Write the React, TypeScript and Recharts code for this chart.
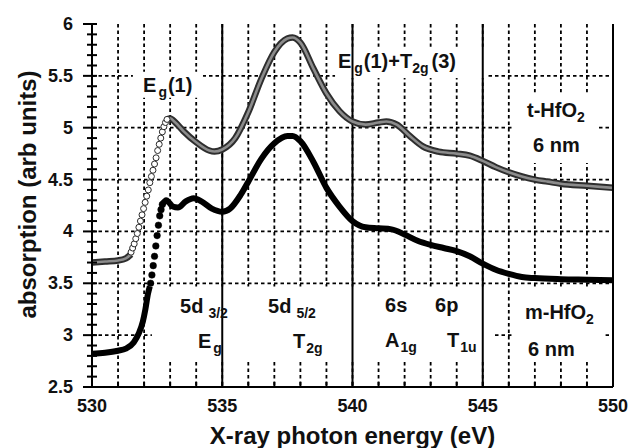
import React from "react";
import {
  LineChart,
  Line,
  XAxis,
  YAxis,
  CartesianGrid,
  ReferenceLine,
  ReferenceArea,
  ReferenceDot,
  Label,
} from "recharts";

const FONT = "'Liberation Sans', Arial, Helvetica, sans-serif";

// axis ticks
const xTicks = [530, 531, 532, 533, 534, 535, 536, 537, 538, 539, 540, 541, 542, 543, 544, 545, 546, 547, 548, 549, 550];
const xMajor = [535, 540, 545];
const yTicks = [
  2.5, 2.6, 2.7, 2.8, 2.9, 3, 3.1, 3.2, 3.3, 3.4, 3.5, 3.6, 3.7, 3.8, 3.9, 4, 4.1, 4.2, 4.3, 4.4,
  4.5, 4.6, 4.7, 4.8, 4.9, 5, 5.1, 5.2, 5.3, 5.4, 5.5, 5.6, 5.7, 5.8, 5.9, 6,
];
const yGrid = [3, 3.5, 4, 4.5, 5, 5.5];

// t-HfO2, 6 nm (open circles)
const tBefore = [[530, 3.7], [530.5, 3.71], [531, 3.72], [531.3, 3.74], [531.5, 3.78]];
const tRise = [
  [531.5, 3.8], [531.56, 3.84], [531.62, 3.88], [531.68, 3.93], [531.74, 3.98], [531.8, 4.04],
  [531.86, 4.1], [531.92, 4.16], [531.98, 4.22], [532.04, 4.28], [532.1, 4.34], [532.16, 4.4],
  [532.22, 4.47], [532.28, 4.53], [532.34, 4.59], [532.4, 4.65], [532.46, 4.71], [532.52, 4.78],
  [532.58, 4.84], [532.64, 4.9], [532.7, 4.96], [532.76, 5.01], [532.82, 5.05], [532.88, 5.08],
];
const tAfter = [
  [532.88, 5.08], [533, 5.09], [533.2, 5.05], [533.5, 4.97], [534, 4.86], [534.5, 4.78], [534.7, 4.77],
  [535, 4.79], [535.5, 4.9], [536, 5.15], [536.5, 5.47], [537, 5.73], [537.5, 5.86], [537.7, 5.87],
  [538, 5.82], [538.5, 5.57], [539, 5.33], [539.5, 5.16], [540, 5.06], [540.5, 5.03], [541, 5.05],
  [541.3, 5.06], [541.7, 5.03], [542.2, 4.92], [542.7, 4.82], [543.3, 4.77], [544, 4.75], [544.5, 4.73],
  [545, 4.68], [545.5, 4.62], [546, 4.57], [546.5, 4.53], [547, 4.5], [547.5, 4.48], [548, 4.46],
  [549, 4.44], [550, 4.42],
];

// m-HfO2, 6 nm (filled circles)
const mBefore = [
  [530, 2.82], [530.5, 2.83], [531, 2.85], [531.3, 2.87], [531.6, 2.93], [531.8, 3.02],
  [531.95, 3.13], [532.05, 3.25], [532.15, 3.4], [532.22, 3.47],
];
const mRise = [
  [532.25, 3.5], [532.3, 3.58], [532.35, 3.67], [532.4, 3.76], [532.45, 3.86], [532.5, 3.96],
  [532.55, 4.06], [532.6, 4.15], [532.65, 4.21], [532.7, 4.26],
];
const mAfter = [
  [532.7, 4.26], [532.85, 4.3], [532.95, 4.28], [533.1, 4.24], [533.3, 4.23], [533.6, 4.29],
  [533.9, 4.32], [534.2, 4.29], [534.6, 4.22], [535, 4.19], [535.3, 4.22], [535.7, 4.35],
  [536, 4.48], [536.5, 4.7], [537, 4.85], [537.5, 4.92], [537.7, 4.92], [538, 4.87], [538.5, 4.67],
  [539, 4.42], [539.5, 4.24], [540, 4.1], [540.5, 4.04], [541, 4.03], [541.5, 4.02], [542, 3.97],
  [542.5, 3.91], [543, 3.87], [543.5, 3.84], [544, 3.81], [544.5, 3.76], [545, 3.69], [545.5, 3.63],
  [546, 3.59], [546.5, 3.56], [547, 3.55], [548, 3.54], [549, 3.535], [550, 3.53],
];

const pts = (arr: number[][]) => arr.map(([e, a]) => ({ e, a }));

// white label backgrounds [x1, x2, y1, y2]
const boxes = [
  [531.57, 534.26, 5.29, 5.54],
  [539.33, 545.2, 5.48, 5.78],
  [546.16, 549.39, 4.66, 5.34],
  [532.3, 545.39, 2.74, 3.47],
  [546.12, 549.7, 2.74, 3.47],
];

type Part = [string, number?, number?];

// annotations: x, y (left / baseline), text parts [text, subscript, dx]
const notes: { x: number; y: number; parts: Part[] }[] = [
  { x: 531.96, y: 5.344, parts: [["E"], ["g", 1, 2], ["(1)", 0, 1]] },
  { x: 539.44, y: 5.576, parts: [["E"], ["g", 1, 3], ["(1)+T", 0, 1], ["2g", 1], ["(3)", 0, 3]] },
  { x: 546.7, y: 5.103, parts: [["t-HfO"], ["2", 1]] },
  { x: 546.93, y: 4.766, parts: [["6 nm"]] },
  { x: 533.38, y: 3.213, parts: [["5d"], ["3/2", 1, 5]] },
  { x: 536.76, y: 3.213, parts: [["5d"], ["5/2", 1, 5]] },
  { x: 541.25, y: 3.223, parts: [["6s"]] },
  { x: 543.17, y: 3.223, parts: [["6p"]] },
  { x: 534.07, y: 2.876, parts: [["E"], ["g", 1, 2]] },
  { x: 537.72, y: 2.876, parts: [["T"], ["2g", 1, 1]] },
  { x: 541.25, y: 2.885, parts: [["A"], ["1g", 1, 1]] },
  { x: 543.63, y: 2.885, parts: [["T"], ["1u", 1, 1]] },
  { x: 546.62, y: 3.155, parts: [["m-HfO"], ["2", 1]] },
  { x: 546.74, y: 2.8, parts: [["6 nm"]] },
];

const isMajor = (v: number) => Math.abs(v * 2 - Math.round(v * 2)) < 1e-6;

function Rich({ x, y, parts }: { x: number; y: number; parts: Part[] }) {
  return (
    <text x={x} y={y} fontFamily={FONT} fontWeight="bold" fontSize={20} fill="#111">
      {parts.map(([t, sub, dx], i) => {
        const prevSub = i > 0 && parts[i - 1][1];
        const dy = sub && !prevSub ? 5 : !sub && prevSub ? -5 : 0;
        return (
          <tspan key={i} dx={dx || 0} dy={dy} fontSize={sub ? 14 : 20}>
            {t}
          </tspan>
        );
      })}
    </text>
  );
}

const leftTick = (p: any) => {
  const { x, y, payload } = p;
  const major = isMajor(payload.value);
  return (
    <g key={`lt-${payload.value}`}>
      <path d={`M${major ? x - 9 : x - 5},${y}H${x + 5}`} stroke="#000" strokeWidth={2} fill="none" />
      {major && (
        <text x={x - 19} y={y + 6} textAnchor="end" fontFamily={FONT} fontWeight="bold" fontSize={18} fill="#111">
          {String(payload.value)}
        </text>
      )}
    </g>
  );
};

const rightTick = (p: any) => {
  const { x, y, payload } = p;
  const major = isMajor(payload.value);
  return (
    <path
      key={`rt-${payload.value}`}
      d={`M${major ? x - 13 : x - 6},${y}H${major ? x + 10 : x + 6}`}
      stroke="#000"
      strokeWidth={2}
      fill="none"
    />
  );
};

const bottomTick = (p: any) => {
  const { x, y, payload } = p;
  return (
    <g key={`bt-${payload.value}`}>
      <path d={`M${x},${y - 5}V${y}`} stroke="#000" strokeWidth={2} fill="none" />
      {payload.value % 5 === 0 && (
        <text x={x} y={y + 25} textAnchor="middle" fontFamily={FONT} fontWeight="bold" fontSize={18} fill="#111">
          {payload.value}
        </text>
      )}
    </g>
  );
};

const topTick = (p: any) => (
  <path key={`tt-${p.payload.value}`} d={`M${p.x},${p.y}V${p.y + 5}`} stroke="#000" strokeWidth={2} fill="none" />
);

export default function App() {
  return (
    <div style={{ position: "absolute", left: 0, top: 0, background: "#fff" }}>
      <LineChart width={628} height={448} margin={{ top: 24, right: 0, bottom: 0, left: 0 }}>
        <CartesianGrid
          stroke="#000"
          strokeWidth={1.8}
          strokeDasharray="3.5 3"
          horizontalValues={yGrid}
          verticalValues={xTicks}
        />
        <XAxis
          dataKey="e"
          type="number"
          domain={[530, 550]}
          ticks={xTicks}
          interval={0}
          height={61}
          tickSize={0}
          tickMargin={0}
          tickLine={false}
          tick={bottomTick}
          axisLine={{ stroke: "#000", strokeWidth: 2 }}
          allowDataOverflow
        >
          <Label
            content={({ viewBox }: any) => (
              <text
                x={viewBox.x + viewBox.width / 2}
                y={viewBox.y + 57}
                textAnchor="middle"
                fontFamily={FONT}
                fontWeight="bold"
                fontSize={24}
                fill="#111"
              >
                X-ray photon energy (eV)
              </text>
            )}
          />
        </XAxis>
        <XAxis
          xAxisId="top"
          dataKey="e"
          type="number"
          orientation="top"
          domain={[530, 550]}
          ticks={xTicks}
          interval={0}
          height={0}
          tickSize={0}
          tickMargin={0}
          tickLine={false}
          tick={topTick}
          axisLine={{ stroke: "#000", strokeWidth: 2.5 }}
        />
        <YAxis
          type="number"
          domain={[2.5, 6]}
          ticks={yTicks}
          width={92}
          tickSize={0}
          tickMargin={0}
          tickLine={false}
          tick={leftTick}
          interval={0}
          axisLine={{ stroke: "#000", strokeWidth: 2 }}
          allowDataOverflow
        >
          <Label
            content={({ viewBox }: any) => {
              const cx = viewBox.x + 27;
              const cy = viewBox.y + viewBox.height / 2 - 11;
              return (
                <text
                  x={cx}
                  y={cy}
                  transform={`rotate(-90 ${cx} ${cy})`}
                  textAnchor="middle"
                  dominantBaseline="central"
                  fontFamily={FONT}
                  fontWeight="bold"
                  fontSize={24}
                  fill="#111"
                >
                  absorption (arb units)
                </text>
              );
            }}
          />
        </YAxis>
        <YAxis
          yAxisId="right"
          orientation="right"
          type="number"
          domain={[2.5, 6]}
          ticks={yTicks}
          width={15}
          tickSize={0}
          tickMargin={0}
          tickLine={false}
          tick={rightTick}
          interval={0}
          axisLine={{ stroke: "#000", strokeWidth: 2 }}
        />

        {xMajor.map((v) => (
          <ReferenceLine key={v} x={v} stroke="#000" strokeWidth={2} />
        ))}
        {boxes.map(([x1, x2, y1, y2], i) => (
          <ReferenceArea key={i} x1={x1} x2={x2} y1={y1} y2={y2} fill="#fff" fillOpacity={1} stroke="none" />
        ))}

        {/* t-HfO2 band of overlapping open circles */}
        <Line data={pts(tBefore)} dataKey="a" type="monotone" stroke="#2e2e2e" strokeWidth={6.5} dot={false} isAnimationActive={false} />
        <Line data={pts(tBefore)} dataKey="a" type="monotone" stroke="#8c8c8c" strokeWidth={2.6} dot={false} isAnimationActive={false} />
        <Line data={pts(tAfter)} dataKey="a" type="monotone" stroke="#2e2e2e" strokeWidth={6.5} dot={false} isAnimationActive={false} />
        <Line data={pts(tAfter)} dataKey="a" type="monotone" stroke="#8c8c8c" strokeWidth={2.6} dot={false} isAnimationActive={false} />
        <Line
          data={pts(tRise)}
          dataKey="a"
          stroke="none"
          dot={{ r: 3, stroke: "#2a2a2a", strokeWidth: 1, fill: "#fff" }}
          isAnimationActive={false}
        />

        {/* m-HfO2 */}
        <Line data={pts(mBefore)} dataKey="a" type="monotone" stroke="#000" strokeWidth={6} dot={false} isAnimationActive={false} />
        <Line data={pts(mAfter)} dataKey="a" type="monotone" stroke="#000" strokeWidth={6} dot={false} isAnimationActive={false} />
        <Line
          data={pts(mRise)}
          dataKey="a"
          stroke="none"
          dot={{ r: 3.3, stroke: "#000", strokeWidth: 0.5, fill: "#000" }}
          isAnimationActive={false}
        />

        {notes.map((n, i) => (
          <ReferenceDot
            key={i}
            x={n.x}
            y={n.y}
            r={0}
            shape={(p: any) => <Rich x={p.cx} y={p.cy} parts={n.parts} />}
          />
        ))}
      </LineChart>
    </div>
  );
}
